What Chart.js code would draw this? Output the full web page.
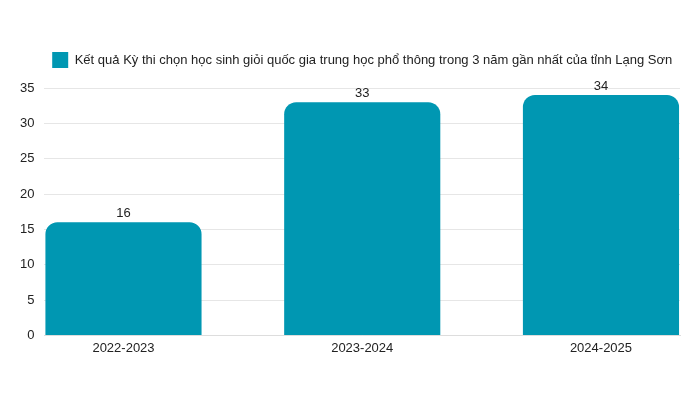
<!DOCTYPE html>
<html>
<head>
<meta charset="utf-8">
<script src="https://cdn.jsdelivr.net/npm/chart.js@4"></script>
<style>
  html, body { margin: 0; padding: 0; background: #fff; }
  #wrap { width: 700px; height: 394px; }
</style>
</head>
<body>
<div id="wrap"><canvas id="chart"></canvas></div>
<script>
const years = ['2022-2023', '2023-2024', '2024-2025'];
const prizes = [16, 33, 34];
const seriesName = 'Kết quả Kỳ thi chọn học sinh giỏi quốc gia trung học phổ thông trong 3 năm gần nhất của tỉnh Lạng Sơn';

const points = prizes.map((v, i) => ({ x: i, y: v }));

// numbers above each bar
const valueLabels = {
  id: 'valueLabels',
  afterDatasetsDraw(chart) {
    const ctx = chart.ctx;
    ctx.save();
    ctx.font = '13px "Liberation Sans", Arial, sans-serif';
    ctx.fillStyle = '#222';
    ctx.textAlign = 'center';
    ctx.textBaseline = 'bottom';
    chart.getDatasetMeta(0).data.forEach((bar, i) => {
      ctx.fillText(prizes[i], bar.x, bar.y - 2);
    });
    ctx.restore();
  }
};

// a bit more room under the legend
const legendGap = {
  id: 'legendGap',
  beforeInit(chart) {
    const fit = chart.legend.fit;
    chart.legend.fit = function () {
      fit.bind(chart.legend)();
      this.height += 10;
    };
  }
};

Chart.defaults.font.family = '"Liberation Sans", Arial, sans-serif';
Chart.defaults.font.size = 13;
Chart.defaults.color = '#222';

new Chart(document.getElementById('chart'), {
  type: 'bar',
  data: {
    datasets: [{
      label: seriesName,
      data: points,
      backgroundColor: '#0097B2',
      borderRadius: { topLeft: 12, topRight: 12 },
      borderSkipped: 'bottom',
      barPercentage: 0.654,
      categoryPercentage: 1
    }]
  },
  options: {
    responsive: true,
    maintainAspectRatio: false,
    animation: false,
    layout: { padding: { top: 42, right: 20, bottom: 41, left: 10 } },
    plugins: {
      legend: {
        display: true,
        fullSize: false,
        labels: { boxWidth: 16, boxHeight: 16, padding: 10 }
      },
      tooltip: { enabled: false }
    },
    scales: {
      x: {
        type: 'linear',
        offset: false,
        min: -0.331,
        max: 2.331,
        grid: { display: false },
        border: { color: '#ddd' },
        ticks: {
          stepSize: 1,
          includeBounds: false,
          autoSkip: false,
          maxRotation: 0,
          padding: -3,
          callback: (v) => years[v]
        }
      },
      y: {
        min: 0,
        max: 35,
        ticks: { stepSize: 5, padding: 10 },
        grid: { color: '#e6e6e6', drawTicks: false },
        border: { display: false }
      }
    }
  },
  plugins: [valueLabels, legendGap]
});
</script>
</body>
</html>
